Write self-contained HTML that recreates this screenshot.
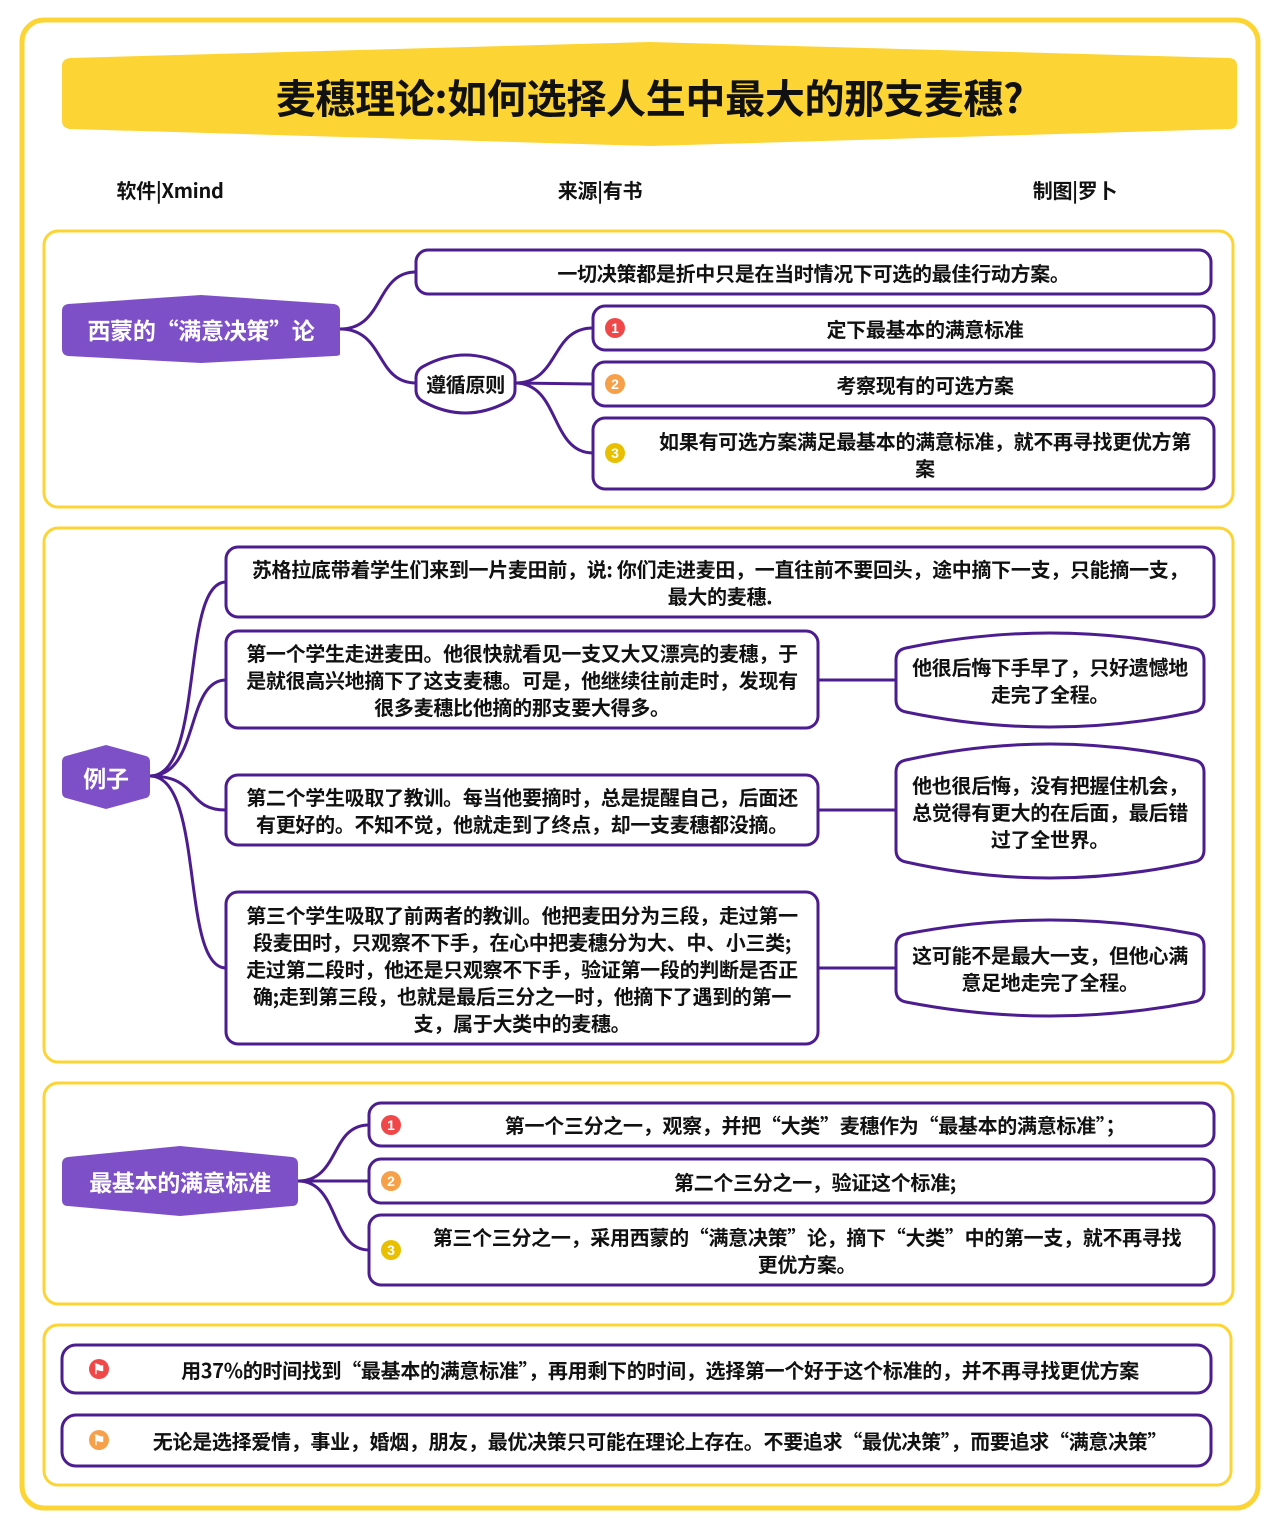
<!DOCTYPE html>
<html><head><meta charset="utf-8"><style>
*{margin:0;padding:0;box-sizing:border-box}
body{width:1280px;height:1529px;background:#fff;position:relative;overflow:hidden;font-family:"Noto Sans CJK SC","Liberation Sans",sans-serif;font-weight:bold;color:#111}
svg{position:absolute;left:0;top:0}
.t{position:absolute;display:flex;align-items:center;justify-content:center;text-align:center;font-size:20px;line-height:27px;letter-spacing:-0.3px}
.w{color:#fff;font-size:23px}
.ic{position:absolute;width:20px;height:20px;border-radius:50%;color:#fff;font-size:14px;line-height:20px;text-align:center;font-weight:bold;font-family:"Liberation Sans",sans-serif}
</style></head><body>
<svg width="1280" height="1529">
<rect x="22" y="20" width="1236" height="1488" rx="22" fill="none" stroke="#fcd535" stroke-width="5"/>
<path d="M70,58 L650,42 L1230,58 Q1237,59 1237,66 L1237,122 Q1237,128 1230,129 L650,146 L70,129 Q62,128 62,121 L62,66 Q62,59 70,58Z" fill="#fcd535"/>
<g fill="none" stroke="#fcd535" stroke-width="3">
<rect x="44" y="231" width="1189" height="276" rx="14"/>
<rect x="44" y="528" width="1189" height="534" rx="14"/>
<rect x="44" y="1083" width="1189" height="221" rx="14"/>
<rect x="44" y="1325" width="1187" height="160" rx="14"/>
</g>
<g fill="#7e50c8">
<path d="M68,304 L201,295 L334,304 Q340,305 340,311 L340,354 Q340,356 334,356 L201,363 L68,356 Q62,355 62,349 L62,311 Q62,305 68,304Z"/>
<path d="M66,756 L106,745 L146,756 Q150,757 150,762 L150,792 Q150,797 146,798 L106,809 L66,798 Q62,797 62,792 L62,762 Q62,757 66,756Z"/>
<path d="M68,1157 L180,1146 L292,1157 Q298,1158 298,1164 L298,1200 Q298,1206 292,1206 L180,1216 L68,1206 Q62,1206 62,1200 L62,1164 Q62,1158 68,1157Z"/>
</g>
<g fill="none" stroke="#4c1d8f" stroke-width="3">
<path d="M340,329 C385,329 375,272 416,272"/>
<path d="M340,329 C385,329 375,383 416,383"/>
<path d="M515,383 C560,383 550,328 593,328"/>
<path d="M515,383 L593,384"/>
<path d="M515,383 C560,383 550,453 593,453"/>
<path d="M150,776 C205,776 180,582 226,582"/>
<path d="M150,776 C200,776 185,680 226,680"/>
<path d="M150,776 C200,776 185,810 226,810"/>
<path d="M150,776 C205,776 180,968 226,968"/>
<path d="M818,680 L896,680 M818,810 L896,810 M818,968 L896,968"/>
<path d="M298,1181 C340,1181 330,1125 369,1125"/>
<path d="M298,1181 L369,1181"/>
<path d="M298,1181 C340,1181 330,1250 369,1250"/>
<rect x="416" y="250" width="795" height="44" rx="12" fill="#fff"/>
<path d="M424,366 Q465,344 507,366 Q515,370 515,378 L515,390 Q515,398 507,402 Q465,424 424,402 Q416,398 416,390 L416,378 Q416,370 424,366Z" fill="#fff"/>
<rect x="593" y="306" width="621" height="44" rx="12" fill="#fff"/>
<rect x="593" y="362" width="621" height="44" rx="12" fill="#fff"/>
<rect x="593" y="418" width="621" height="71" rx="12" fill="#fff"/>
<rect x="226" y="547" width="988" height="70" rx="12" fill="#fff"/>
<rect x="226" y="631" width="592" height="97" rx="12" fill="#fff"/>
<rect x="226" y="775" width="592" height="70" rx="12" fill="#fff"/>
<rect x="226" y="892" width="592" height="152" rx="12" fill="#fff"/>
<path d="M906,648 Q1050,618 1194,648 Q1204,650 1204,660 L1204,700 Q1204,710 1194,712 Q1050,742 906,712 Q896,710 896,700 L896,660 Q896,650 906,648Z" fill="#fff"/>
<path d="M906,760 Q1050,728 1194,760 Q1204,762 1204,772 L1204,850 Q1204,860 1194,862 Q1050,894 906,862 Q896,860 896,850 L896,772 Q896,762 906,760Z" fill="#fff"/>
<path d="M906,934 Q1050,906 1194,934 Q1204,936 1204,946 L1204,990 Q1204,1000 1194,1002 Q1050,1030 906,1002 Q896,1000 896,990 L896,946 Q896,936 906,934Z" fill="#fff"/>
<rect x="369" y="1103" width="845" height="43" rx="12" fill="#fff"/>
<rect x="369" y="1159" width="845" height="44" rx="12" fill="#fff"/>
<rect x="369" y="1215" width="845" height="70" rx="12" fill="#fff"/>
<rect x="62" y="1345" width="1149" height="48" rx="14" fill="#fff"/>
<rect x="62" y="1415" width="1149" height="51" rx="14" fill="#fff"/>
</g>
</svg>
<div class="t" style="left:62px;top:42px;width:1175px;height:108px;font-size:40px">麦穗理论:如何选择人生中最大的那支麦穗?</div>
<div class="t" style="left:100px;top:176px;width:140px;height:27px">软件|Xmind</div>
<div class="t" style="left:530px;top:176px;width:140px;height:27px">来源|有书</div>
<div class="t" style="left:1005px;top:176px;width:140px;height:27px">制图|罗卜</div>

<div class="t w" style="left:62px;top:295px;width:278px;height:68px">西蒙的“满意决策”论</div>
<div class="t" style="left:416px;top:250px;width:795px;height:44px">一切决策都是折中只是在当时情况下可选的最佳行动方案。</div>
<div class="t" style="left:416px;top:353px;width:99px;height:60px">遵循原则</div>
<div class="ic" style="left:605px;top:318px;background:#f04848">1</div>
<div class="t" style="left:630px;top:306px;width:590px;height:44px">定下最基本的满意标准</div>
<div class="ic" style="left:605px;top:374px;background:#f6a04a">2</div>
<div class="t" style="left:630px;top:362px;width:590px;height:44px">考察现有的可选方案</div>
<div class="ic" style="left:605px;top:443px;background:#e8c000">3</div>
<div class="t" style="left:630px;top:418px;width:590px;height:71px">如果有可选方案满足最基本的满意标准，就不再寻找更优方第<br>案</div>

<div class="t w" style="left:62px;top:745px;width:88px;height:64px">例子</div>
<div class="t" style="left:226px;top:547px;width:988px;height:70px">苏格拉底带着学生们来到一片麦田前，说: 你们走进麦田，一直往前不要回头，途中摘下一支，只能摘一支，<br>最大的麦穗.</div>
<div class="t" style="left:226px;top:631px;width:592px;height:97px">第一个学生走进麦田。他很快就看见一支又大又漂亮的麦穗，于<br>是就很高兴地摘下了这支麦穗。可是，他继续往前走时，发现有<br>很多麦穗比他摘的那支要大得多。</div>
<div class="t" style="left:226px;top:775px;width:592px;height:70px">第二个学生吸取了教训。每当他要摘时，总是提醒自己，后面还<br>有更好的。不知不觉，他就走到了终点，却一支麦穗都没摘。</div>
<div class="t" style="left:226px;top:892px;width:592px;height:152px">第三个学生吸取了前两者的教训。他把麦田分为三段，走过第一<br>段麦田时，只观察不下手，在心中把麦穗分为大、中、小三类;<br>走过第二段时，他还是只观察不下手，验证第一段的判断是否正<br>确;走到第三段，也就是最后三分之一时，他摘下了遇到的第一<br>支，属于大类中的麦穗。</div>
<div class="t" style="left:896px;top:632px;width:308px;height:96px">他很后悔下手早了，只好遗憾地<br>走完了全程。</div>
<div class="t" style="left:896px;top:742px;width:308px;height:138px">他也很后悔，没有把握住机会，<br>总觉得有更大的在后面，最后错<br>过了全世界。</div>
<div class="t" style="left:896px;top:918px;width:308px;height:100px">这可能不是最大一支，但他心满<br>意足地走完了全程。</div>

<div class="t w" style="left:62px;top:1146px;width:236px;height:70px">最基本的满意标准</div>
<div class="ic" style="left:381px;top:1115px;background:#f04848">1</div>
<div class="t" style="left:400px;top:1103px;width:830px;height:43px">第一个三分之一，观察，并把“大类”麦穗作为“最基本的满意标准”；</div>
<div class="ic" style="left:381px;top:1171px;background:#f6a04a">2</div>
<div class="t" style="left:400px;top:1159px;width:830px;height:44px">第二个三分之一，验证这个标准;</div>
<div class="ic" style="left:381px;top:1240px;background:#e8c000">3</div>
<div class="t" style="left:400px;top:1215px;width:814px;height:70px">第三个三分之一，采用西蒙的“满意决策”论，摘下“大类”中的第一支，就不再寻找<br>更优方案。</div>

<div class="ic" style="left:89px;top:1359px;background:#f04848">⚑</div>
<div class="t" style="left:120px;top:1345px;width:1080px;height:48px">用37%的时间找到“最基本的满意标准”，再用剩下的时间，选择第一个好于这个标准的，并不再寻找更优方案</div>
<div class="ic" style="left:89px;top:1430px;background:#f6a04a">⚑</div>
<div class="t" style="left:110px;top:1415px;width:1100px;height:51px">无论是选择爱情，事业，婚烟，朋友，最优决策只可能在理论上存在。不要追求“最优决策”，而要追求“满意决策”</div>
</body></html>
